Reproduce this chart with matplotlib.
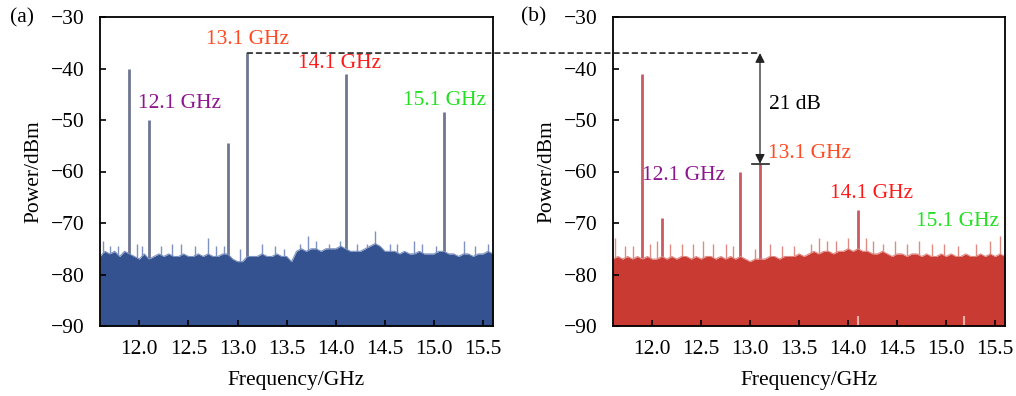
import numpy as np
import matplotlib
matplotlib.use("Agg")
import matplotlib.pyplot as plt
from matplotlib.patches import ConnectionPatch

plt.rcParams['font.family'] = ['Liberation Serif', 'DejaVu Serif']
plt.rcParams['axes.unicode_minus'] = True

# ---------------- data ----------------
freq_start, freq_step = 11.60, 0.05

# noise floor (a), dBm, every 0.05 GHz from 11.60 to 15.60
floor_a = [-76.5, -75.5, -76, -75.5, -76.5, -75.5, -76, -76.5, -77, -76,
           -77, -76.5, -76, -76.5, -76, -76.5, -76.5, -76, -76.5, -76.5,
           -76, -76.5, -76, -76.5, -76.5, -76, -76, -77, -77.5, -77.5,
           -76.5, -76.5, -76.5, -76, -76.5, -76.5, -76, -76.5, -76.5, -77.5,
           -75.5, -75, -75.5, -75, -75, -75.5, -75, -75, -75, -74.5,
           -75, -75.5, -75.5, -75.5, -75, -74.5, -74, -74.5, -75.5, -75.5,
           -75.5, -76, -75.5, -76, -76, -75.5, -76, -76, -76, -75.5,
           -75.5, -76, -76, -76.5, -76, -76, -76.5, -76, -76, -75.5, -76]

# noise floor (b)
floor_b = [-77, -76.5, -77, -76.5, -77, -76.5, -77, -76.5, -77, -77,
           -76.5, -77, -76.5, -77, -76.5, -76.5, -77, -76.5, -77, -76.5,
           -76.5, -77, -76.5, -77, -76.5, -77, -76.5, -77, -77.5, -77,
           -77, -77, -76.5, -76.5, -77, -76.5, -76.5, -76.5, -76, -76.5,
           -76, -75.5, -76, -75.5, -75.5, -76, -75.5, -75.5, -75, -75.5,
           -75, -75.5, -75.5, -76, -76, -75.5, -76, -76.5, -76, -76,
           -76.5, -76, -76, -76.5, -76, -76.5, -76.5, -76, -76.5, -76,
           -76.5, -76.5, -76, -76.5, -76.5, -76, -76.5, -76, -76.5, -76, -76.5]

# small noise spikes (freq GHz, dBm)
spike_f_a = [11.63, 11.70, 11.78, 11.98, 12.03, 12.22, 12.33, 12.42, 12.57, 12.70,
             12.78, 12.86, 13.03, 13.25, 13.38, 13.47, 13.64, 13.72, 13.80, 13.93,
             14.04, 14.22, 14.32, 14.40, 14.55, 14.62, 14.80, 14.88, 15.02, 15.30,
             15.42, 15.55]
spike_p_a = [-73.5, -74.5, -74.5, -74, -74.5, -74.5, -74, -74, -74.5, -73,
             -74.5, -74.5, -75, -74, -74.5, -75, -74, -72.5, -73.5, -74,
             -73.5, -74, -74, -71.5, -74, -74, -73.5, -74, -74.5, -73.5,
             -74.5, -74]

spike_f_b = [11.62, 11.72, 11.80, 11.98, 12.05, 12.18, 12.30, 12.42, 12.52, 12.62,
             12.75, 12.82, 13.05, 13.20, 13.32, 13.45, 13.62, 13.70, 13.78, 13.88,
             14.00, 14.18, 14.25, 14.35, 14.48, 14.60, 14.72, 14.85, 14.98, 15.12,
             15.30, 15.45, 15.55]
spike_p_b = [-73, -74.5, -74.5, -74, -73.5, -74, -74, -74, -73.5, -74,
             -74, -74.5, -75, -74, -74.5, -74.5, -74, -73, -73.5, -73.5,
             -73, -73, -73.5, -74, -73.5, -74, -73.5, -74, -74, -74.5,
             -74, -73.5, -72.5]

# tones
peak_f_a = [11.9, 12.1, 12.9, 13.1, 14.1, 15.1]
peak_p_a = [-40, -50, -54.5, -37, -41, -48.5]
peak_f_b = [11.9, 12.1, 12.9, 13.1, 14.1]
peak_p_b = [-41, -69, -60, -58.5, -67.5]

labels = ["12.1 GHz", "13.1 GHz", "14.1 GHz", "15.1 GHz"]
label_colors = ["#8E1590", "#FF4A22", "#FF1A1A", "#22E020"]
label_pos_a = [(12.41, -46.7), (13.10, -34.4), (14.04, -39.0), (15.11, -46.2)]
label_pos_b = [(12.32, -60.7), (13.60, -56.5), (14.24, -64.2), (15.12, -69.8)]

ref_level = -37
suppressed_level = -58.5
diff_label = "21 dB"

xticks = [12.0, 12.5, 13.0, 13.5, 14.0, 14.5, 15.0, 15.5]
yticks = [-90, -80, -70, -60, -50, -40, -30]

# ---------------- figure ----------------
fig = plt.figure(figsize=(10.16, 3.96), dpi=100)
ax_a = fig.add_axes([100 / 1016, 70 / 396, 393 / 1016, 309 / 396])
ax_b = fig.add_axes([613 / 1016, 70 / 396, 392 / 1016, 309 / 396])

FS = 15.5


def panel(ax, floor, sf, sp, pf, pp, fill_c, spike_c, peak_c, lab_pos):
    f = freq_start + freq_step * np.arange(len(floor))
    ax.vlines(pf, -90, pp, color=peak_c, lw=2.0, zorder=0.8)
    ax.vlines(sf, -90, sp, color=spike_c, lw=1.0, zorder=0.7)
    ax.fill_between(f, -90, floor, color=fill_c, lw=0, zorder=1)
    ax.plot(f, floor, color=spike_c, lw=0.8, zorder=1.5)
    for t, c, (x, y) in zip(labels, label_colors, lab_pos):
        ax.text(x, y, t, color=c, fontsize=FS, ha='center', va='center', zorder=5)
    ax.set_xlim(11.6, 15.6)
    ax.set_ylim(-90, -30)
    ax.set_xticks(xticks)
    ax.set_xticklabels([f"{v:.1f}" for v in xticks])
    ax.set_yticks(yticks)
    ax.tick_params(direction='in', length=4, width=1.2, labelsize=FS,
                   top=False, right=False)
    ax.tick_params(axis='x', pad=10)
    ax.tick_params(axis='y', pad=11)
    for s in ax.spines.values():
        s.set_linewidth(1.3)
        s.set_zorder(3)
    ax.set_xlabel("Frequency/GHz", fontsize=FS, labelpad=9)
    ax.set_ylabel("Power/dBm", fontsize=FS, labelpad=5)


panel(ax_a, floor_a, spike_f_a, spike_p_a, peak_f_a, peak_p_a,
      "#33528F", "#7D92C0", "#6E7690", label_pos_a)
panel(ax_b, floor_b, spike_f_b, spike_p_b, peak_f_b, peak_p_b,
      "#C93A32", "#E08A84", "#CC5A62", label_pos_b)

# light streaks at the bottom of (b)
ax_b.vlines([14.10, 15.18], -90, -88, color="#F0B0A8", lw=1.5, zorder=2)

# dashed reference line across panels
con = ConnectionPatch(xyA=(13.1, ref_level), coordsA=ax_a.transData,
                      xyB=(13.1, ref_level), coordsB=ax_b.transData,
                      linestyle=(0, (3, 2.5)), color='#222222', lw=1.2)
fig.add_artist(con)

# double arrow in (b)
ax_b.annotate("", xy=(13.1, ref_level), xytext=(13.1, suppressed_level),
              arrowprops=dict(arrowstyle='<|-|>', color='#222222', lw=0.9,
                              mutation_scale=14, shrinkA=0, shrinkB=0),
              zorder=6)
ax_b.plot([13.02, 13.19], [suppressed_level, suppressed_level],
          color='#222222', lw=1.2, zorder=6)
ax_b.text(13.19, -46.9, diff_label, fontsize=FS, ha='left', va='center',
          color='black')

fig.text(22 / 1016, 1 - 18 / 396, "(a)", fontsize=FS, ha='center', va='center')
fig.text(534 / 1016, 1 - 17 / 396, "(b)", fontsize=FS, ha='center', va='center')

fig.savefig("out.png", dpi=100)
